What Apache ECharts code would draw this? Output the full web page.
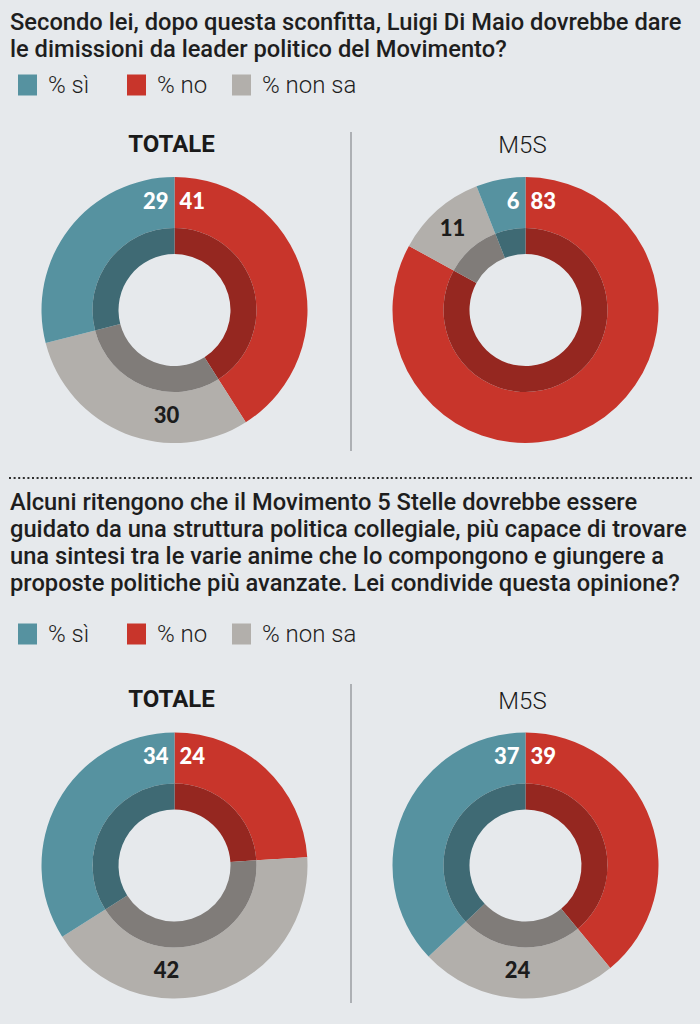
<!DOCTYPE html>
<html>
<head>
<meta charset="utf-8">
<script src="https://cdn.jsdelivr.net/npm/echarts@6/dist/echarts.min.js"></script>
<style>
html,body{margin:0;padding:0;background:#e6e9ec;}
#chart{width:700px;height:1024px;}
</style>
</head>
<body>
<div id="chart"></div>
<script>
// ---- data ----
const categories = ['% sì', '% no', '% non sa'];
const panelNames = ['TOTALE', 'M5S'];
const q1Totale = [29, 41, 30];
const q1M5S = [6, 83, 11];
const q2Totale = [34, 24, 42];
const q2M5S = [37, 39, 24];
const question1 = 'Secondo lei, dopo questa sconfitta, Luigi Di Maio dovrebbe dare\nle dimissioni da leader politico del Movimento?';
const question2 = 'Alcuni ritengono che il Movimento 5 Stelle dovrebbe essere\nguidato da una struttura politica collegiale, più capace di trovare\nuna sintesi tra le varie anime che lo compongono e giungere a\nproposte politiche più avanzate. Lei condivide questa opinione?';

// ---- styles / layout ----
const outerColors = ['#5692a0', '#c8352b', '#b2afab'];
const innerColors = ['#3f6a74', '#952720', '#807c79'];
const labelColors = ['#ffffff', '#ffffff', '#1c1c1c'];
const drawOrder = [1, 2, 0]; // clockwise from 12 o'clock: no, non sa, sì
const R_HOLE = 56, R_MID = 82, R_OUT = 133;

const panels = [
  { values: q1Totale, title: panelNames[0], bold: true, cx: 174.5, cy: 310, ty: 144 },
  { values: q1M5S,    title: panelNames[1], bold: false, cx: 525.5, cy: 310, ty: 145 },
  { values: q2Totale, title: panelNames[0], bold: true, cx: 174.5, cy: 865.5, ty: 699 },
  { values: q2M5S,    title: panelNames[1], bold: false, cx: 525.5, cy: 865.5, ty: 701 }
];

const series = [];
panels.forEach(function (P, pi) {
  const total = P.values.reduce(function (a, b) { return a + b; }, 0);
  const outerData = drawOrder.map(function (k) {
    return {
      name: categories[k], value: P.values[k],
      itemStyle: { color: outerColors[k] },
      label: { color: labelColors[k] }
    };
  });
  const innerData = drawOrder.map(function (k) {
    return { name: categories[k], value: P.values[k], itemStyle: { color: innerColors[k] } };
  });
  series.push({
    type: 'pie', name: 'outer' + pi, center: [P.cx, P.cy], radius: [R_MID, R_OUT],
    startAngle: 90, clockwise: true, avoidLabelOverlap: false, silent: true,
    itemStyle: { borderWidth: 0 },
    emphasis: { disabled: true },
    label: {
      show: true, position: 'inside', formatter: '{c}',
      fontFamily: 'Lato', fontWeight: 900, fontSize: 22
    },
    labelLine: { show: false },
    labelLayout: function (p) {
      const k = drawOrder[p.dataIndex];
      if (k === 0) return { x: P.cx - 6, y: P.cy - 110, align: 'right', verticalAlign: 'middle' };
      if (k === 1) return { x: P.cx + 5, y: P.cy - 110, align: 'left', verticalAlign: 'middle' };
      const s = P.values[1] / total, e = (P.values[1] + P.values[2]) / total;
      if (s < 0.5 && e > 0.5) return { x: P.cx - 8, y: P.cy + 104, align: 'center', verticalAlign: 'middle' };
      return {};
    },
    data: outerData
  });
  series.push({
    type: 'pie', name: 'inner' + pi, center: [P.cx, P.cy], radius: [R_HOLE, R_MID],
    startAngle: 90, clockwise: true, silent: true,
    itemStyle: { borderWidth: 0 },
    emphasis: { disabled: true },
    label: { show: false }, labelLine: { show: false },
    data: innerData
  });
});

function makeLegends(top) {
  const lefts = [18, 127, 232];
  return categories.map(function (c, k) {
    return {
      left: lefts[k], top: top, padding: 0, orient: 'horizontal',
      itemWidth: 19, itemHeight: 21, selectedMode: false,
      icon: 'rect',
      textStyle: { fontFamily: 'Roboto', fontWeight: 300, fontSize: 24, color: '#1e1e1e', padding: [0, 0, 0, 6] },
      data: [{ name: c, itemStyle: { color: outerColors[k] } }]
    };
  });
}

const graphics = [
  { type: 'text', x: 10, y: 8, style: { text: question1, font: '500 23.7px Roboto', fill: '#1e1e1e', lineHeight: 27.5 } },
  { type: 'text', x: 10, y: 488, style: { text: question2, font: '500 23.7px Roboto', fill: '#1e1e1e', lineHeight: 27 } },
  { type: 'line', shape: { x1: 351, y1: 132, x2: 351, y2: 451 }, style: { stroke: '#adb0b4', lineWidth: 2 } },
  { type: 'line', shape: { x1: 351, y1: 684, x2: 351, y2: 1003 }, style: { stroke: '#adb0b4', lineWidth: 2 } },
  { type: 'line', shape: { x1: 9, y1: 478, x2: 692, y2: 478 }, style: { stroke: '#2e2e2e', lineWidth: 2, lineDash: [2, 2.6] } }
];
panels.forEach(function (P) {
  graphics.push({
    type: 'text', x: P.cx - 3, y: P.ty,
    style: {
      text: P.title, align: 'center', verticalAlign: 'middle', fill: '#1a1a1a',
      font: (P.bold ? '700 ' : '300 ') + '24px Roboto'
    }
  });
});

const chart = echarts.init(document.getElementById('chart'), null, { renderer: 'svg', width: 700, height: 1024 });
chart.setOption({
  backgroundColor: '#e6e9ec',
  animation: false,
  legend: makeLegends(73).concat(makeLegends(622)),
  graphic: graphics,
  series: series
});
</script>
</body>
</html>
